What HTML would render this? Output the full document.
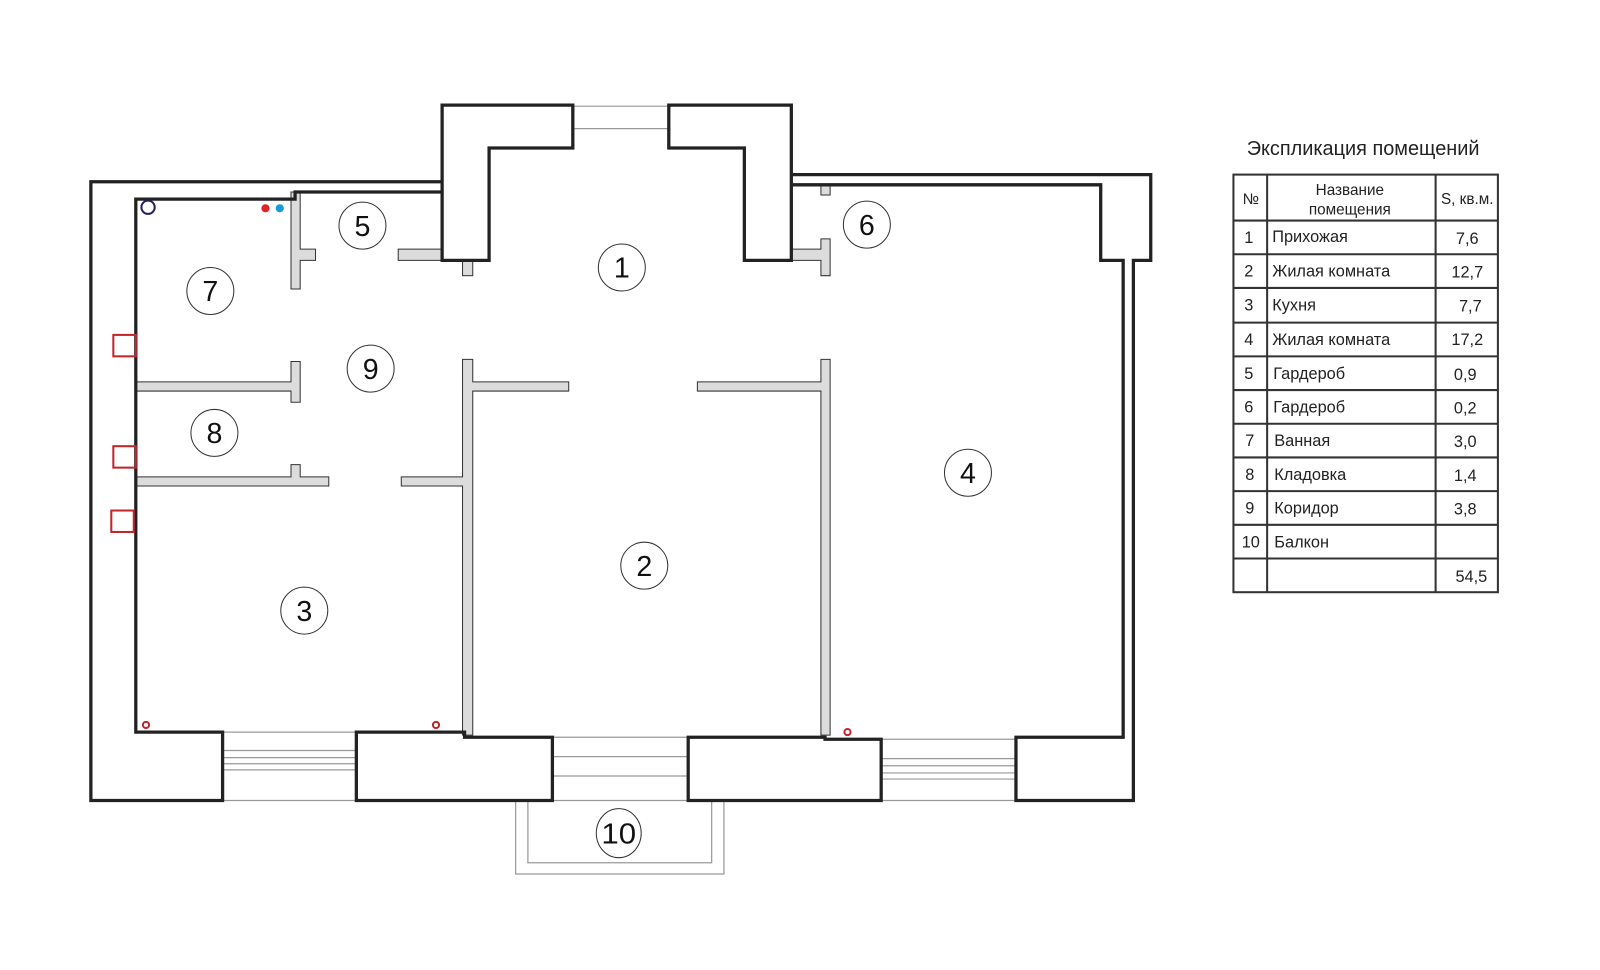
<!DOCTYPE html>
<html><head><meta charset="utf-8"><style>html,body{margin:0;padding:0;background:#fff}svg{display:block}</style></head>
<body>
<svg width="1600" height="970" viewBox="0 0 1567 950" preserveAspectRatio="none" xmlns="http://www.w3.org/2000/svg" font-family="Liberation Sans, sans-serif">
<rect width="1567" height="950" fill="#fff"/>
<g stroke="#999" stroke-width="1.2" fill="none">
<line x1="561" y1="104" x2="655" y2="104"/><line x1="561" y1="126" x2="655" y2="126"/>
<line x1="218" y1="717" x2="349" y2="717"/><line x1="218" y1="735" x2="349" y2="735"/><line x1="218" y1="742" x2="349" y2="742"/><line x1="218" y1="748" x2="349" y2="748"/><line x1="218" y1="754" x2="349" y2="754"/><line x1="218" y1="784" x2="349" y2="784"/>
<line x1="541" y1="722" x2="674" y2="722"/><line x1="541" y1="741" x2="674" y2="741"/><line x1="541" y1="760" x2="674" y2="760"/><line x1="541" y1="784" x2="674" y2="784"/>
<line x1="863" y1="724" x2="995" y2="724"/><line x1="863" y1="743" x2="995" y2="743"/><line x1="863" y1="750" x2="995" y2="750"/><line x1="863" y1="757" x2="995" y2="757"/><line x1="863" y1="763" x2="995" y2="763"/><line x1="863" y1="784" x2="995" y2="784"/>
<polyline points="505,784 505,856 709,856 709,784"/>
<polyline points="517,784 517,845 697,845 697,784"/>
</g>
<g fill="#dcdcdc" stroke="#333" stroke-width="1">
<path d="M285,188 H294 V244 H309 V255 H294 V283 H285 Z"/>
<rect x="390" y="244" width="43" height="11"/>
<rect x="453" y="255" width="10" height="15"/>
<path d="M133,374 H285 V354 H294 V394 H285 V383 H133 Z"/>
<path d="M133,467 H285 V455 H294 V467 H322 V476 H133 Z"/>
<path d="M393,467 H453 V352 H463 V374 H557 V383 H463 V720 H453 V476 H393 Z"/>
<path d="M683,374 H804 V352 H813 V720 H804 V383 H683 Z"/>
<rect x="804" y="181" width="9" height="10"/>
<path d="M775,244 H804 V234 H813 V270 H804 V255 H775 Z"/>
</g>
<g stroke="#222" stroke-width="3.2" fill="none" stroke-linejoin="miter">
<polyline points="433,178 89,178 89,784 218,784 218,717 133,717 133,195 289,195 289,188 433,188"/>
<polygon points="433,103 561,103 561,145 479,145 479,255 433,255"/>
<polygon points="655,103 775,103 775,255 729,255 729,145 655,145"/>
<polyline points="775,171 1127,171 1127,255 1110,255 1110,784 995,784 995,722 1100,722 1100,255 1078,255 1078,181 775,181"/>
<polygon points="349,717 455,717 455,722 541,722 541,784 349,784"/>
<polygon points="674,722 808,722 808,724 863,724 863,784 674,784"/>
</g>
<g stroke="#c0262c" stroke-width="2" fill="none">
<rect x="111" y="328" width="22" height="21"/><rect x="111" y="437" width="22" height="21"/><rect x="109" y="500" width="22" height="21"/>
<circle cx="143" cy="710" r="3"/><circle cx="427" cy="710" r="3"/><circle cx="830" cy="717" r="3"/>
</g>
<circle cx="145" cy="203" r="6.5" fill="none" stroke="#23205e" stroke-width="2"/>
<circle cx="260" cy="204" r="4" fill="#e0242a"/><circle cx="274" cy="204" r="4" fill="#1a9ad6"/>
<g fill="none" stroke="#333" stroke-width="1">
<circle cx="609" cy="262" r="23"/><circle cx="631" cy="554" r="23"/><circle cx="298" cy="598" r="23"/><circle cx="948" cy="463" r="23"/><circle cx="355" cy="221" r="23"/><circle cx="849" cy="220" r="23"/><circle cx="206" cy="285" r="23"/><circle cx="210" cy="424" r="23"/><circle cx="363" cy="361" r="23"/><ellipse cx="606" cy="816" rx="22" ry="24"/>
</g>
<g font-size="28" text-anchor="middle" fill="#111">
<text x="609" y="272">1</text><text x="631" y="564">2</text><text x="298" y="608">3</text><text x="948" y="473">4</text><text x="355" y="231">5</text><text x="849" y="230">6</text><text x="206" y="295">7</text><text x="210" y="434">8</text><text x="363" y="371">9</text><text x="606" y="826" textLength="34" lengthAdjust="spacingAndGlyphs">10</text>
</g>
<text x="1335" y="152" font-size="19.5" text-anchor="middle" fill="#222">Экспликация помещений</text>
<g stroke="#333" stroke-width="2" fill="none">
<rect x="1208" y="171" width="259" height="409"/>
<line x1="1241" y1="171" x2="1241" y2="580"/><line x1="1406" y1="171" x2="1406" y2="580"/>
<line x1="1208" y1="216" x2="1467" y2="216"/><line x1="1208" y1="249" x2="1467" y2="249"/><line x1="1208" y1="282" x2="1467" y2="282"/><line x1="1208" y1="316" x2="1467" y2="316"/><line x1="1208" y1="349" x2="1467" y2="349"/><line x1="1208" y1="382" x2="1467" y2="382"/><line x1="1208" y1="415" x2="1467" y2="415"/><line x1="1208" y1="448" x2="1467" y2="448"/><line x1="1208" y1="481" x2="1467" y2="481"/><line x1="1208" y1="514" x2="1467" y2="514"/><line x1="1208" y1="547" x2="1467" y2="547"/>
</g>
<g font-size="15" fill="#222">
<text x="1225" y="200" text-anchor="middle">№</text>
<text x="1322" y="191" text-anchor="middle">Название</text>
<text x="1322" y="210" text-anchor="middle">помещения</text>
<text x="1437" y="200" text-anchor="middle">S, кв.м.</text>
<g text-anchor="middle" font-size="16">
<text x="1223" y="238">1</text><text x="1223" y="271">2</text><text x="1223" y="304">3</text><text x="1223" y="338">4</text><text x="1223" y="371">5</text><text x="1223" y="404">6</text><text x="1224" y="437">7</text><text x="1224" y="470">8</text><text x="1224" y="503">9</text><text x="1225" y="536">10</text>
<text x="1437" y="239">7,6</text><text x="1437" y="272">12,7</text><text x="1440" y="305">7,7</text><text x="1437" y="338">17,2</text><text x="1435" y="372">0,9</text><text x="1435" y="405">0,2</text><text x="1435" y="438">3,0</text><text x="1435" y="471">1,4</text><text x="1435" y="504">3,8</text><text x="1441" y="570">54,5</text>
</g>
<g font-size="16">
<text x="1246" y="237">Прихожая</text><text x="1246" y="271">Жилая комната</text><text x="1246" y="304">Кухня</text><text x="1246" y="338">Жилая комната</text><text x="1247" y="371">Гардероб</text><text x="1247" y="404">Гардероб</text><text x="1248" y="437">Ванная</text><text x="1248" y="470">Кладовка</text><text x="1248" y="503">Коридор</text><text x="1248" y="536">Балкон</text>
</g>
</g>
</svg>
</body></html>
